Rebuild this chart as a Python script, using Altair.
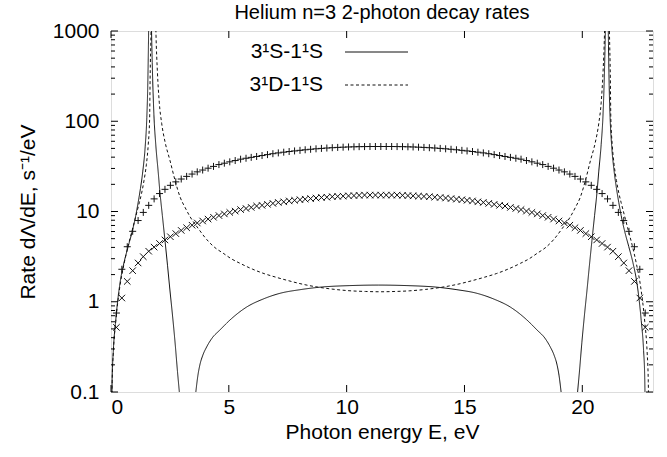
import altair as alt
import pandas as pd

# ---------------- text ----------------
title_text = "Helium n=3 2-photon decay rates"
x_title = "Photon energy E, eV"
y_title = "Rate dΛ/dE, s⁻¹/eV"
legend_labels = ["3¹S-1¹S", "3¹D-1¹S"]

# ---------------- axis ticks ----------------
x_ticks = [0, 5, 10, 15, 20]
y_major = [0.1, 1, 10, 100, 1000]
y_minor = [0.2, 0.3, 0.4, 0.5, 0.6, 0.7, 0.8, 0.9,
           2, 3, 4, 5, 6, 7, 8, 9,
           20, 30, 40, 50, 60, 70, 80, 90,
           200, 300, 400, 500, 600, 700, 800, 900]

# ---------------- 3^1S-1^1S curve (solid) ----------------
s_energy = [0.005, 0.05, 0.1, 0.2, 0.38, 0.55, 0.73, 0.9, 1.05, 1.15, 1.25, 1.35, 1.45, 1.52, 1.56, 1.6, 1.63, 1.655,
            1.68, 1.71, 1.75, 1.82, 1.9, 2.0, 2.08, 2.18, 2.29, 2.4, 2.5, 2.6, 2.72, 2.82, 2.9, 3.0, 3.1, 3.25,
            3.4, 3.5, 3.6, 3.69, 3.77, 3.9, 4.06, 4.29, 4.62, 5.05, 5.76, 6.45, 7.17, 8.02, 8.87, 10.14, 11.35,
            12.56, 13.83, 14.68, 15.53, 16.25, 16.94, 17.65, 18.08, 18.41, 18.64, 18.8, 18.93, 19.01, 19.1,
            19.2, 19.3, 19.45, 19.6, 19.7, 19.8, 19.88, 19.98, 20.1, 20.2, 20.3, 20.41, 20.52, 20.62, 20.7,
            20.8, 20.88, 20.95, 20.99, 21.02, 21.045, 21.07, 21.1, 21.14, 21.18, 21.25, 21.35, 21.45, 21.55,
            21.65, 21.8, 21.97, 22.15, 22.32, 22.5, 22.6, 22.65, 22.695]
s_rate = [0.01, 0.14, 0.29, 0.62, 1.6, 2.7, 4.1, 6.0, 9.0, 12.5, 18, 28, 52, 110, 250, 1200, 8000, 100000,
          8000, 1500, 450, 120, 55, 28, 16, 9, 4.8, 2.5, 1.35, 0.75, 0.35, 0.17, 0.1, 0.05, 0.015, 0.0008,
          0.02, 0.055, 0.1, 0.154, 0.199, 0.257, 0.316, 0.396, 0.486, 0.628, 0.875, 1.07, 1.24, 1.36, 1.45, 1.51, 1.53,
          1.51, 1.45, 1.36, 1.24, 1.07, 0.875, 0.628, 0.486, 0.396, 0.316, 0.257, 0.199, 0.154, 0.1,
          0.055, 0.02, 0.0008, 0.015, 0.05, 0.1, 0.17, 0.35, 0.75, 1.35, 2.5, 4.8, 9, 16, 28,
          55, 120, 450, 1500, 8000, 100000, 8000, 1200, 250, 110, 52, 28, 18, 12.5,
          9.0, 6.0, 4.1, 2.7, 1.6, 0.62, 0.29, 0.14, 0.01]

# ---------------- 3^1D-1^1S curve (dashed) ----------------
d_energy = [0.005, 0.05, 0.1, 0.2, 0.38, 0.55, 0.73, 0.9, 1.05, 1.2, 1.3, 1.4, 1.5, 1.58, 1.64, 1.66, 1.7, 1.74, 1.8,
            1.86, 1.91, 1.97, 2.05, 2.15, 2.3, 2.5, 2.72, 2.93, 3.15, 3.35, 3.7, 4.06, 4.4, 4.76, 5.1, 5.47,
            6.0, 6.5, 7.0, 7.5, 8.2, 8.87, 9.5, 10.2, 10.8, 11.425,
            12.05, 12.65, 13.35, 13.98, 14.65, 15.35, 15.85, 16.35, 16.85, 17.38, 17.75, 18.09, 18.45, 18.79,
            19.15, 19.5, 19.7, 19.92, 20.13, 20.35, 20.55, 20.7, 20.8, 20.88, 20.94, 20.99, 21.05,
            21.11, 21.15, 21.19, 21.21, 21.27, 21.35, 21.45, 21.55, 21.65, 21.8, 21.95, 22.12, 22.3, 22.47,
            22.65, 22.75, 22.8, 22.845]
d_rate = [0.01, 0.13, 0.28, 0.6, 1.5, 2.6, 4.2, 6.2, 8.8, 12.5, 16, 22, 33, 55, 110, 300, 1000, 4000, 100000,
          4000, 900, 350, 160, 95, 58, 37, 22, 14.5, 11, 8.8, 6.5, 4.9, 4.0, 3.45, 3.0, 2.67,
          2.3, 2.05, 1.87, 1.72, 1.55, 1.44, 1.37, 1.32, 1.30, 1.29,
          1.30, 1.32, 1.37, 1.44, 1.55, 1.72, 1.87, 2.05, 2.3, 2.67, 3.0, 3.45, 4.0, 4.9,
          6.5, 8.8, 11, 14.5, 22, 37, 58, 95, 160, 350, 900, 4000, 100000,
          4000, 1000, 300, 110, 55, 33, 22, 16, 12.5, 8.8, 6.2, 4.2, 2.6, 1.5,
          0.6, 0.28, 0.13, 0.01]

# ---------------- computed points (+ and x markers) ----------------
grid_energy = [0.23, 0.46, 0.69, 0.92, 1.15, 1.37, 1.60, 1.83, 2.06, 2.29, 2.52, 2.75, 2.98, 3.21, 3.44, 3.66,
               3.89, 4.12, 4.35, 4.58, 4.81, 5.04, 5.27, 5.50, 5.73, 5.95, 6.18, 6.41, 6.64, 6.87, 7.10, 7.33,
               7.56, 7.79, 8.02, 8.24, 8.47, 8.70, 8.93, 9.16, 9.39, 9.62, 9.85, 10.08, 10.31, 10.53, 10.76,
               10.99, 11.22, 11.45, 11.68, 11.91, 12.14, 12.37, 12.60, 12.82, 13.05, 13.28, 13.51, 13.74, 13.97,
               14.20, 14.43, 14.66, 14.89, 15.11, 15.34, 15.57, 15.80, 16.03, 16.26, 16.49, 16.72, 16.95, 17.18,
               17.40, 17.63, 17.86, 18.09, 18.32, 18.55, 18.78, 19.01, 19.24, 19.47, 19.69, 19.92, 20.15, 20.38,
               20.61, 20.84, 21.07, 21.30, 21.53, 21.76, 21.98, 22.21, 22.44, 22.67]
plus_rate = [0.75, 2.29, 4.07, 6.03, 7.94, 9.77, 11.7, 13.8, 15.8, 17.6, 19.5, 21.3, 22.9, 24.5, 26.0, 27.5,
             28.8, 30.2, 31.6, 33.1, 34.3, 35.5, 36.7, 38.0, 38.9, 39.8, 40.7, 41.7, 42.7, 43.7, 44.6, 45.4,
             46.2, 46.9, 47.6, 48.3, 48.9, 49.5, 50.0, 50.5, 50.9, 51.3, 51.6, 51.9, 52.1, 52.3, 52.4, 52.5,
             52.5, 52.5, 52.5, 52.5, 52.4, 52.3, 52.1, 51.9, 51.6, 51.3, 50.9, 50.5, 50.0, 49.5, 48.9, 48.3,
             47.6, 46.9, 46.2, 45.4, 44.6, 43.7, 42.7, 41.7, 40.7, 39.8, 38.9, 38.0, 36.7, 35.5, 34.3, 33.1,
             31.6, 30.2, 28.8, 27.5, 26.0, 24.5, 22.9, 21.3, 19.5, 17.6, 15.8, 13.8, 11.7, 9.77, 7.94, 6.03,
             4.07, 2.29, 0.75]
cross_rate = [0.52, 1.10, 1.68, 2.21, 2.69, 3.16, 3.63, 4.03, 4.42, 4.84, 5.25, 5.69, 6.17, 6.61, 7.05, 7.46,
              7.85, 8.24, 8.63, 9.02, 9.40, 9.77, 10.1, 10.5, 10.8, 11.1, 11.5, 11.7, 12.0, 12.3, 12.6, 12.8,
              13.1, 13.3, 13.5, 13.7, 13.9, 14.1, 14.3, 14.4, 14.6, 14.7, 14.8, 14.9, 15.0, 15.1, 15.2, 15.2,
              15.2, 15.2, 15.2, 15.2, 15.2, 15.1, 15.0, 14.9, 14.8, 14.7, 14.6, 14.4, 14.3, 14.1, 13.9, 13.7,
              13.5, 13.3, 13.1, 12.8, 12.6, 12.3, 12.0, 11.7, 11.5, 11.1, 10.8, 10.5, 10.1, 9.77, 9.40, 9.02,
              8.63, 8.24, 7.85, 7.46, 7.05, 6.61, 6.17, 5.69, 5.25, 4.84, 4.42, 4.03, 3.63, 3.16, 2.69, 2.21,
              1.68, 1.10, 0.52]

assert len(s_energy) == len(s_rate)
assert len(d_energy) == len(d_rate)
assert len(grid_energy) == len(plus_rate) == len(cross_rate)

# ---------------- layout ----------------
W, H = 542, 361
FONT = "Liberation Sans"
FS = 21

lines_df = pd.concat([
    pd.DataFrame({"E": s_energy, "rate": s_rate, "series": legend_labels[0], "order": range(len(s_energy))}),
    pd.DataFrame({"E": d_energy, "rate": d_rate, "series": legend_labels[1], "order": range(len(d_energy))}),
])
plus_df = pd.DataFrame({"E": grid_energy, "rate": plus_rate})
cross_df = pd.DataFrame({"E": grid_energy, "rate": cross_rate})

xs = alt.Scale(domain=[0, 23], nice=False, zero=False)
ys = alt.Scale(type="log", domain=[0.1, 1000], nice=False)

xaxis = alt.Axis(values=x_ticks, title=x_title, grid=False, domain=False, ticks=False,
                 labelPadding=4, titlePadding=4, labelFontSize=FS, titleFontSize=FS,
                 labelFont=FONT, titleFont=FONT, titleFontWeight="normal",
                 labelColor="black", titleColor="black")
yaxis = alt.Axis(values=y_major, title=y_title, grid=False, domain=False, ticks=False,
                 labelExpr="datum.value < 1 ? '0.1' : format(datum.value, 'd')",
                 labelPadding=12, titlePadding=14, labelFontSize=FS, titleFontSize=FS,
                 labelFont=FONT, titleFont=FONT, titleFontWeight="normal",
                 labelColor="black", titleColor="black")

X = alt.X("E:Q", scale=xs, axis=xaxis)
Y = alt.Y("rate:Q", scale=ys, axis=yaxis)

lines = alt.Chart(lines_df).mark_line(clip=True, color="#111", strokeWidth=1, interpolate="monotone").encode(
    x=X, y=Y,
    detail="series:N",
    order="order:Q",
    strokeDash=alt.StrokeDash("series:N", scale=alt.Scale(domain=legend_labels, range=[[1, 0], [3, 2.5]]),
                              legend=None),
)

plus_pts = alt.Chart(plus_df).mark_point(clip=True, shape="M-1,0H1M0,-1V1", size=49, filled=False,
                                         color="#111", strokeWidth=1, opacity=1).encode(x=X, y=Y)
cross_pts = alt.Chart(cross_df).mark_point(clip=True, shape="M-1,-1L1,1M-1,1L1,-1", size=42, filled=False,
                                           color="#111", strokeWidth=1, opacity=1).encode(x=X, y=Y)

# inward ticks (gnuplot style, mirrored)
xt_df = pd.DataFrame({"E": x_ticks})
ymaj_df = pd.DataFrame({"rate": y_major})
ymin_df = pd.DataFrame({"rate": y_minor})
TK = 7
MT = 4
tick_style = dict(color="black", strokeWidth=1)
ticks = [
    alt.Chart(xt_df).mark_rule(**tick_style).encode(x=X, y=alt.value(H), y2=alt.value(H - TK)),
    alt.Chart(xt_df).mark_rule(**tick_style).encode(x=X, y=alt.value(0), y2=alt.value(TK)),
    alt.Chart(ymaj_df).mark_rule(**tick_style).encode(y=Y, x=alt.value(0), x2=alt.value(TK)),
    alt.Chart(ymaj_df).mark_rule(**tick_style).encode(y=Y, x=alt.value(W), x2=alt.value(W - TK)),
    alt.Chart(ymin_df).mark_rule(**tick_style).encode(y=Y, x=alt.value(0), x2=alt.value(MT)),
    alt.Chart(ymin_df).mark_rule(**tick_style).encode(y=Y, x=alt.value(W), x2=alt.value(W - MT)),
]

# key (gnuplot style: label, then line sample)
key_rows = [21, 54]
key_layers = []
for i, lab in enumerate(legend_labels):
    kdf = pd.DataFrame({"label": [lab], "series": [lab]})
    key_layers.append(
        alt.Chart(kdf).mark_text(align="right", baseline="middle", font=FONT, fontSize=FS, color="black").encode(
            text="label:N", x=alt.value(212), y=alt.value(key_rows[i]))
    )
    key_layers.append(
        alt.Chart(kdf).mark_rule(color="#111", strokeWidth=1, strokeDash=[1, 0] if i == 0 else [3, 2.5]).encode(
            x=alt.value(234), x2=alt.value(297), y=alt.value(key_rows[i]))
    )

chart = alt.layer(lines, plus_pts, cross_pts, *ticks, *key_layers).properties(
    width=W, height=H,
    title=alt.TitleParams(title_text, font=FONT, fontSize=20, fontWeight="normal", color="black",
                          anchor="middle", frame="group", offset=0, dy=3),
    autosize=alt.AutoSizeParams(type="none"),
    padding={"left": 111, "top": 31, "right": 14, "bottom": 65},
).configure_view(stroke="black", strokeWidth=1).configure(background="white")

chart.save("out.html", embed_options={"renderer": "svg", "actions": False})
